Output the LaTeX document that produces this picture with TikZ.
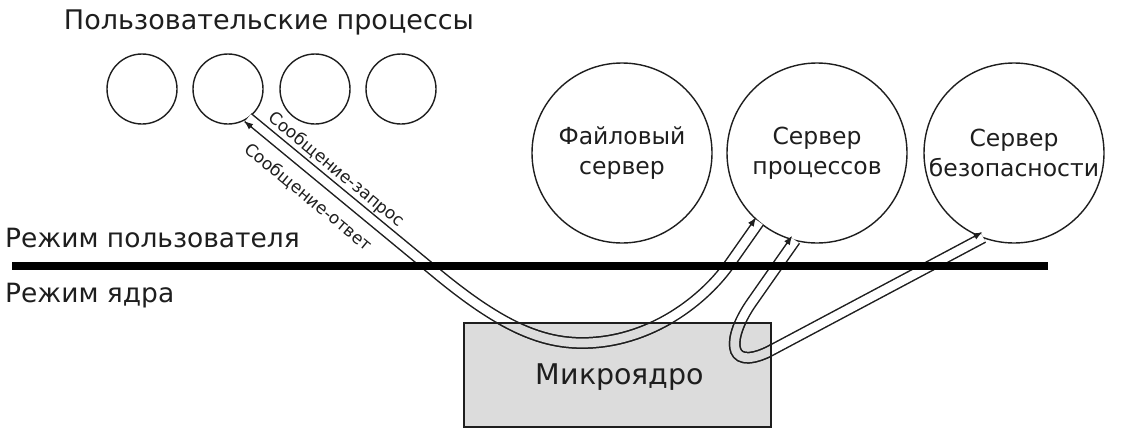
\documentclass[tikz,border=0pt]{standalone}
\usepackage{fontspec}
\setmainfont{DejaVu Sans}
\usetikzlibrary{arrows.meta,calc}
\definecolor{kgray}{HTML}{DCDCDC}
\definecolor{ink}{HTML}{1E1E1E}
\newcommand\tubeApath{(u2.-55) -- (440,276) .. controls (500,325) and (540,343) .. (582,343) .. controls (650,343) and (705,300) .. (731,262) -- (ps.-130)}
\newcommand\tubeBpath{(ps.-104) -- (752,302) .. controls (728,336) and (725,372) .. (768,352) -- (ss.-110)}
\begin{document}
\begin{tikzpicture}[x=1pt,y=-1pt,
  proc/.style={circle,draw=ink,line width=1.4pt,minimum size=70pt,inner sep=0pt,outer sep=0pt},
  server/.style={circle,draw=ink,line width=1.4pt,minimum size=180pt,inner sep=0pt,outer sep=0pt},
  servertext/.style={align=center,text=ink,font=\fontsize{23.5}{30}\selectfont,inner sep=0pt},
  modetext/.style={anchor=west,text=ink,font=\fontsize{26.5}{30}\selectfont,inner sep=0pt},
  msgtext/.style={text=ink,font=\fontsize{17}{20}\selectfont,inner sep=0pt,rotate=-39.5},
  kernel/.style={draw=ink,line width=1.3pt,fill=kgray,minimum width=307pt,minimum height=104pt,inner sep=0pt,outer sep=0pt},
  tube/.style={draw=ink,line width=1.5pt,double=white,double distance=8.7pt},
  tubeg/.style={draw=ink,line width=1.5pt,double=kgray,double distance=8.7pt},
  msgarrow/.style={draw=ink,line width=1.5pt,-{Latex[length=9pt,width=7pt]}},
  modeline/.style={draw=black,line width=8pt}]
\useasboundingbox (0,0) rectangle (1129,447);
% user processes
\node (title) at (269,22) {\fontsize{27}{30}\selectfont\color{ink}Пользовательские процессы};
\node[proc] (u1) at (142,89) {};
\node[proc] (u2) at (228,89) {};
\node[proc] (u3) at (315,89) {};
\node[proc] (u4) at (401,89) {};
% servers
\node[server] (fs) at (622,153) {};
\node[server] (ps) at (817,153) {};
\node[server] (ss) at (1014,153) {};
\node[servertext] (fst) at (fs) {Файловый\\сервер};
\node[servertext] (pst) at (ps) {Сервер\\процессов};
\node[servertext] (sst) at (ss) {Сервер\\безопасности};
% kernel
\node[kernel] (k) at (617.5,375) {};
% tubes
\draw[tube] \tubeApath;
\draw[tube] \tubeBpath;
\begin{scope}
  \clip (k.south west) rectangle (k.north east);
  \draw[tubeg] \tubeApath;
  \draw[tubeg] \tubeBpath;
\end{scope}
\draw[draw=ink,line width=1.3pt] (k.south west) rectangle (k.north east);
\node[text=ink,font=\fontsize{28.5}{30}\selectfont,inner sep=0pt] (kt) at (620,377) {Микроядро};
% arrowheads
\coordinate (a1t) at (244.06,120.97); \coordinate (a1b) at (251.77,127.33);
\coordinate (a2t) at (756.13,217.37); \coordinate (a2b) at (750.38,225.55);
\coordinate (a3t) at (792.20,235.76); \coordinate (a3b) at (786.46,243.95);
\coordinate (a4t) at (982.60,232.13); \coordinate (a4b) at (973.77,236.82);
\draw[msgarrow] (a1b) -- (a1t);
\draw[msgarrow] (a2b) -- (a2t);
\draw[msgarrow] (a3b) -- (a3t);
\draw[msgarrow] (a4b) -- (a4t);
% message labels
\node[msgtext] (req) at (336.0,169.9) {Сообщение-запрос};
\node[msgtext] (rep) at (308.2,197.4) {Сообщение-ответ};
% mode line
\coordinate (ml) at (12,266);
\coordinate (mr) at (1048,266);
\draw[modeline] (ml) -- (mr);
\node[modetext] (um) at (5,238) {Режим пользователя};
\node[modetext] (km) at (5,296) {Режим ядра};
\end{tikzpicture}
\end{document}
